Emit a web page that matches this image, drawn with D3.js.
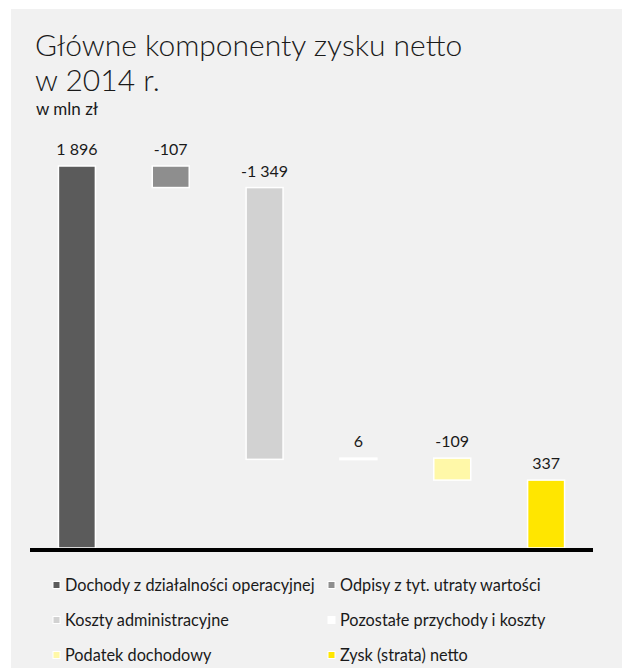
<!DOCTYPE html>
<html>
<head>
<meta charset="utf-8">
<script src="https://cdn.jsdelivr.net/npm/d3@7"></script>
<style>
  html, body { margin: 0; padding: 0; background: #ffffff; }
  svg { display: block; }
  text { font-family: Lato, "Open Sans", sans-serif; fill: #1a1a1a; }
</style>
</head>
<body>
<svg id="chart" width="622" height="668"></svg>
<script>
// Components of net profit, 2014 (PLN million)
const categories = [
  "Dochody z działalności operacyjnej",
  "Odpisy z tyt. utraty wartości",
  "Koszty administracyjne",
  "Pozostałe przychody i koszty",
  "Podatek dochodowy",
  "Zysk (strata) netto"
];
const values = [1896, -107, -1349, 6, -109, 337];
const valueLabels = ["1 896", "-107", "-1 349", "6", "-109", "337"];
const isTotal = [true, false, false, false, false, true];
const colors = ["#5b5b5b", "#8e8e8e", "#d2d2d2", "#ffffff", "#fff8a8", "#ffe600"];

const titleLines = ["Główne komponenty zysku netto", "w 2014 r."];
const unitLabel = "w mln zł";

const svg = d3.select("#chart");

// panel background
svg.append("rect")
  .attr("x", 11).attr("y", 9)
  .attr("width", 611).attr("height", 659)
  .attr("fill", "#f1f1f1");

// title
svg.selectAll("text.title")
  .data(titleLines)
  .join("text")
  .attr("class", "title")
  .attr("x", 35)
  .attr("y", (d, i) => 56 + i * 35)
  .attr("font-size", 30)
  .attr("font-weight", 300)
  .text(d => d);

svg.append("text")
  .attr("x", 36).attr("y", 115)
  .attr("font-size", 17)
  .text(unitLabel);

// waterfall segments
let running = 0;
const segments = values.map((v, i) => {
  let start, end;
  if (isTotal[i]) { start = 0; end = v; running = v; }
  else { start = running; end = running + v; running = end; }
  return { cat: categories[i], value: v, label: valueLabels[i], color: colors[i],
           lo: Math.min(start, end), hi: Math.max(start, end) };
});

const x = d3.scaleBand()
  .domain(categories)
  .range([30, 593])
  .paddingInner(0.606)
  .paddingOuter(0.303);

const y = d3.scaleLinear()
  .domain([0, d3.max(segments, d => d.hi)])
  .range([548, 166]);

const bars = svg.append("g");
bars.selectAll("rect")
  .data(segments)
  .join("rect")
  .attr("x", d => x(d.cat))
  .attr("width", x.bandwidth())
  .attr("y", d => y(d.hi))
  .attr("height", d => Math.max(1.5, y(d.lo) - y(d.hi)))
  .attr("fill", d => d.color)
  .attr("stroke", "#ffffff")
  .attr("stroke-width", 1.5);

bars.selectAll("text")
  .data(segments)
  .join("text")
  .attr("x", d => x(d.cat) + x.bandwidth() / 2)
  .attr("y", d => y(d.hi) - 11)
  .attr("text-anchor", "middle")
  .attr("font-size", 16)
  .text(d => d.label);

// baseline
svg.append("line")
  .attr("x1", 30).attr("x2", 593)
  .attr("y1", y(0) + 2).attr("y2", y(0) + 2)
  .attr("stroke", "#000000")
  .attr("stroke-width", 4);

// legend: two columns, three rows
const legend = svg.append("g")
  .selectAll("g")
  .data(segments)
  .join("g")
  .attr("transform", (d, i) => `translate(${i % 2 === 0 ? 53 : 328}, ${585 + Math.floor(i / 2) * 35})`);

legend.append("rect")
  .attr("x", 0).attr("y", -3.5)
  .attr("width", 7).attr("height", 7)
  .attr("fill", d => d.color)
  .attr("stroke", "#ffffff")
  .attr("stroke-width", 1);

legend.append("text")
  .attr("x", 12)
  .attr("y", 6)
  .attr("font-size", 16.3)
  .text(d => d.cat);
</script>
</body>
</html>
